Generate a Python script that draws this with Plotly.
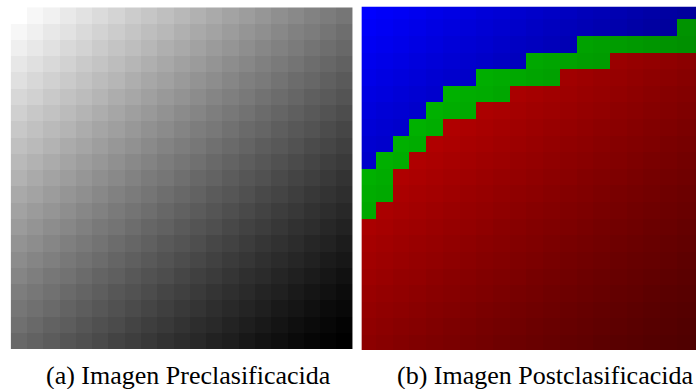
import plotly.graph_objects as go

W, H = 696, 389

# Pre-classified image: grey level of each cell (row 0 = top)
gray_rows = [
    [255, 247, 241, 233, 226, 219, 212, 204, 198, 191, 184, 177, 170, 163, 157, 150, 143, 137, 130, 124, 118],
    [247, 240, 232, 226, 218, 211, 204, 197, 190, 184, 176, 169, 163, 156, 149, 143, 136, 129, 124, 117, 110],
    [239, 232, 225, 217, 211, 203, 196, 190, 183, 175, 169, 162, 155, 149, 142, 135, 129, 123, 116, 110, 104],
    [231, 224, 217, 210, 202, 196, 189, 182, 175, 168, 161, 155, 148, 141, 135, 128, 122, 116, 109, 103, 97],
    [224, 216, 209, 202, 195, 188, 182, 174, 167, 161, 154, 147, 141, 134, 127, 122, 115, 108, 103, 96, 90],
    [215, 209, 201, 194, 188, 181, 173, 167, 160, 153, 147, 140, 133, 127, 121, 114, 108, 102, 95, 90, 84],
    [208, 200, 194, 187, 180, 173, 166, 159, 153, 146, 139, 133, 126, 120, 114, 107, 101, 95, 89, 83, 77],
    [200, 193, 186, 180, 172, 165, 159, 152, 145, 139, 132, 125, 120, 113, 106, 101, 94, 88, 83, 76, 70],
    [192, 186, 179, 171, 165, 158, 151, 145, 138, 131, 125, 119, 112, 106, 100, 93, 88, 82, 75, 70, 64],
    [185, 178, 171, 164, 157, 151, 144, 137, 131, 124, 118, 112, 105, 99, 93, 87, 81, 75, 69, 63, 58],
    [178, 170, 163, 157, 150, 143, 137, 130, 123, 118, 111, 104, 99, 92, 86, 81, 74, 68, 63, 57, 51],
    [169, 163, 156, 149, 143, 136, 129, 123, 117, 110, 104, 98, 91, 86, 80, 73, 68, 62, 56, 51, 46],
    [162, 155, 149, 142, 135, 129, 122, 116, 110, 103, 97, 91, 85, 79, 73, 67, 61, 56, 50, 45, 40],
    [155, 148, 141, 135, 128, 121, 116, 109, 102, 97, 90, 84, 79, 72, 66, 61, 55, 49, 45, 39, 34],
    [147, 141, 134, 127, 121, 115, 108, 102, 96, 89, 84, 78, 71, 66, 60, 54, 49, 44, 38, 34, 28],
    [140, 133, 127, 120, 114, 108, 101, 95, 89, 83, 77, 71, 65, 59, 54, 48, 43, 38, 33, 27, 23],
    [133, 126, 119, 114, 107, 100, 95, 88, 82, 77, 70, 64, 59, 53, 47, 43, 37, 32, 27, 22, 17],
    [125, 119, 113, 106, 100, 94, 87, 82, 76, 69, 64, 58, 52, 47, 42, 36, 32, 26, 21, 17, 12],
    [118, 112, 106, 99, 93, 87, 81, 75, 69, 63, 57, 52, 46, 41, 36, 31, 25, 21, 16, 11, 8],
    [112, 105, 98, 93, 86, 80, 75, 68, 62, 57, 51, 45, 41, 35, 30, 25, 20, 15, 11, 7, 3],
    [104, 98, 92, 85, 80, 74, 67, 62, 56, 50, 45, 40, 34, 30, 24, 19, 15, 10, 6, 3, 0],
]

# Post-classified image: class of each cell (B = blue, G = green, R = red)
class_rows = [
    "BBBBBBBBBBBBBBBBBBBBB",
    "BBBBBBBBBBBBBBBBBBBGG",
    "BBBBBBBBBBBBBGGGGGGGG",
    "BBBBBBBBBBGGGGGRRRRRR",
    "BBBBBBBGGGGGRRRRRRRRR",
    "BBBBBGGGGRRRRRRRRRRRR",
    "BBBBGGGRRRRRRRRRRRRRR",
    "BBBGGRRRRRRRRRRRRRRRR",
    "BBGGRRRRRRRRRRRRRRRRR",
    "BGGRRRRRRRRRRRRRRRRRR",
    "GGRRRRRRRRRRRRRRRRRRR",
    "GGRRRRRRRRRRRRRRRRRRR",
    "GRRRRRRRRRRRRRRRRRRRR",
    "RRRRRRRRRRRRRRRRRRRRR",
    "RRRRRRRRRRRRRRRRRRRRR",
    "RRRRRRRRRRRRRRRRRRRRR",
    "RRRRRRRRRRRRRRRRRRRRR",
    "RRRRRRRRRRRRRRRRRRRRR",
    "RRRRRRRRRRRRRRRRRRRRR",
    "RRRRRRRRRRRRRRRRRRRRR",
    "RRRRRRRRRRRRRRRRRRRRR",
]

class_colorscales = {
    "B": [[0, "rgb(0,0,65)"], [1, "rgb(0,0,255)"]],
    "G": [[0, "rgb(0,92,0)"], [1, "rgb(0,212,0)"]],
    "R": [[0, "rgb(78,0,0)"], [1, "rgb(229,0,0)"]],
}

captions = ["(a) Imagen Preclasificacida", "(b) Imagen Postclasificacida"]

n_cols = len(gray_rows[0])
n_rows = len(gray_rows)
cols = list(range(n_cols))
rows = list(range(n_rows))

fig = go.Figure()

fig.add_trace(go.Heatmap(
    z=gray_rows, x=cols, y=rows,
    colorscale=[[0, "rgb(0,0,0)"], [1, "rgb(255,255,255)"]],
    zmin=0, zmax=255, showscale=False, hoverinfo="skip",
    xaxis="x", yaxis="y",
))

for cls, cs in class_colorscales.items():
    z = [[g if c == cls else None for g, c in zip(grow, crow)]
         for grow, crow in zip(gray_rows, class_rows)]
    fig.add_trace(go.Heatmap(
        z=z, x=cols, y=rows, colorscale=cs,
        zmin=0, zmax=255, showscale=False, hoverinfo="skip",
        xaxis="x2", yaxis="y2",
    ))

ax = dict(visible=False, showgrid=False, zeroline=False, fixedrange=True)
cap_font = dict(family="Liberation Serif, DejaVu Serif, serif", size=26, color="black")

fig.update_layout(
    width=W, height=H,
    margin=dict(l=0, r=0, t=0, b=0),
    paper_bgcolor="white", plot_bgcolor="white",
    showlegend=False,
    xaxis=dict(domain=[10.67 / W, 352.67 / W], range=[-0.5, 20.5], anchor="y", **ax),
    yaxis=dict(domain=[1 - 349.0 / H, 1 - 7.33 / H], range=[20.5, -0.5], anchor="x", **ax),
    xaxis2=dict(domain=[361.67 / W, 1.0], range=[-0.358, 19.657], anchor="y2", **ax),
    yaxis2=dict(domain=[1 - 350.0 / H, 1 - 6.67 / H], range=[20.373, -0.261], anchor="x2", **ax),
    annotations=[
        dict(text=captions[0], x=188.5 / W, y=1 - 375.0 / H, xref="paper", yref="paper",
             xanchor="center", yanchor="middle", showarrow=False, font=cap_font),
        dict(text=captions[1], x=544.5 / W, y=1 - 375.0 / H, xref="paper", yref="paper",
             xanchor="center", yanchor="middle", showarrow=False, font=cap_font),
    ],
)

fig.write_html("out.html")
